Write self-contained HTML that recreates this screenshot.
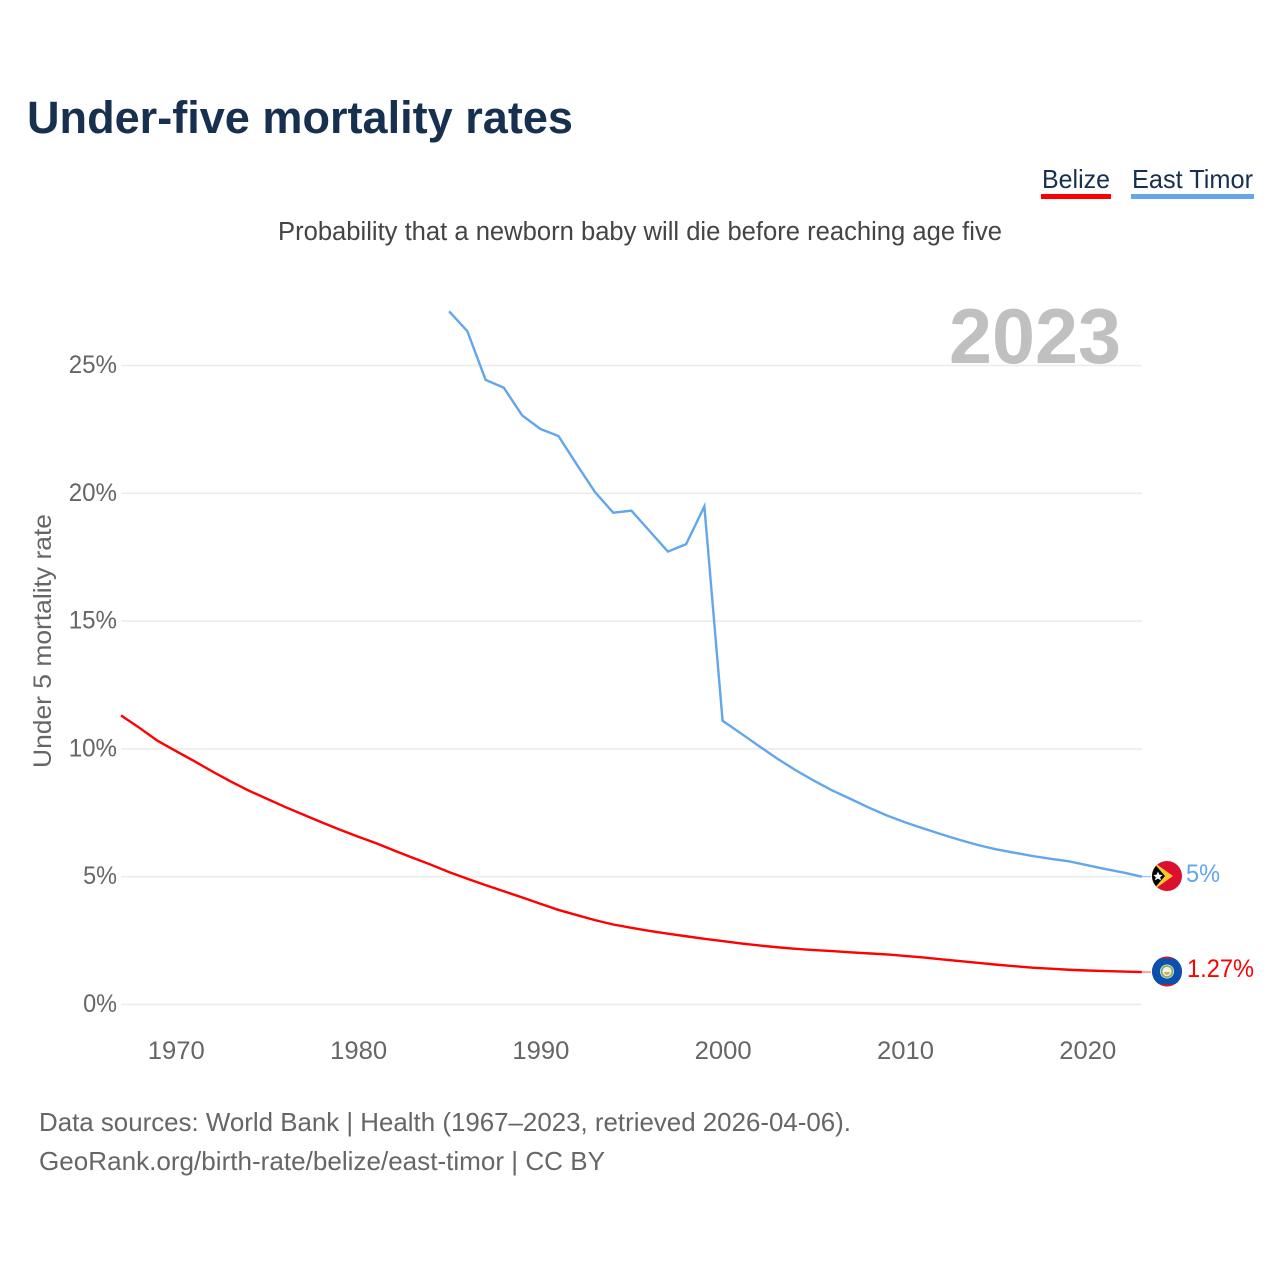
<!DOCTYPE html>
<html lang="en">
<head>
<meta charset="utf-8">
<title>Under-five mortality rates</title>
<style>
html,body{margin:0;padding:0;background:#fff;}
svg{display:block;font-family:"Liberation Sans",sans-serif;}
</style>
</head>
<body>
<svg id="chart" width="1280" height="1280" viewBox="0 0 1280 1280" xmlns="http://www.w3.org/2000/svg">
  <defs>
    <clipPath id="flag-clip-tl"><circle cx="1167" cy="876" r="15"/></clipPath>
    <clipPath id="flag-clip-bz"><circle cx="1167" cy="971.5" r="15"/></clipPath>
  </defs>
  <rect x="0" y="0" width="1280" height="1280" fill="#fff"/>
  <text x="27" y="133" font-size="45" font-weight="700" fill="#18304f" textLength="546" lengthAdjust="spacingAndGlyphs">Under-five mortality rates</text>
  <text x="278" y="240" font-size="25.5" fill="#444" textLength="724" lengthAdjust="spacingAndGlyphs">Probability that a newborn baby will die before reaching age five</text>

  <g>
    <text x="1042" y="188" font-size="26" fill="#18304f" textLength="68" lengthAdjust="spacingAndGlyphs">Belize</text>
    <rect x="1041" y="194" width="70" height="5" fill="#ff0000"/>
    <text x="1132" y="188" font-size="26" fill="#18304f" textLength="121" lengthAdjust="spacingAndGlyphs">East Timor</text>
    <rect x="1131" y="194" width="123" height="5" fill="#62a6ec"/>
  </g>

  <g id="grid"></g>
  <text x="949" y="363" font-size="78" font-weight="700" fill="#c0c0c0" textLength="172" lengthAdjust="spacingAndGlyphs">2023</text>
  <g id="y-ticks"></g>
  <g id="x-ticks"></g>
  <text transform="translate(51,768) rotate(-90)" x="0" y="0" font-size="25" fill="#666" textLength="254" lengthAdjust="spacingAndGlyphs">Under 5 mortality rate</text>
  <g id="series"></g>

  <g clip-path="url(#flag-clip-tl)">
    <rect x="1152" y="861" width="30" height="30" fill="#dc0f2f"/>
    <polygon points="1152,861 1173,876 1152,891" fill="#fdc82f"/>
    <polygon points="1152,861 1152,891 1165,876" fill="#000"/>
    <polygon points="1158,871.5 1159.4,874.6 1162.6,875 1160.2,877.1 1161,880.4 1158,878.6 1155,880.4 1155.8,877.1 1153.4,875 1156.6,874.6" fill="#fff"/>
  </g>
  <g clip-path="url(#flag-clip-bz)">
    <rect x="1152" y="956" width="30" height="31" fill="#b5213a"/>
    <rect x="1152" y="958.5" width="30" height="25.5" fill="#0a50ad"/>
    <circle cx="1167" cy="971.5" r="7" fill="#e8eedd"/>
    <circle cx="1167" cy="971.5" r="5.5" fill="none" stroke="#7fa75c" stroke-width="1.6"/>
    <circle cx="1167" cy="971.5" r="3" fill="#f4f4ec"/>
    <path d="M1164.2 972h5.6a2.8 2.8 0 0 1-5.6 0z" fill="#d9a83a"/>
  </g>
  <text x="1186" y="882" font-size="25" fill="#62a6ec" textLength="34" lengthAdjust="spacingAndGlyphs">5%</text>
  <text x="1187" y="977" font-size="25" fill="#ff0000" textLength="67" lengthAdjust="spacingAndGlyphs">1.27%</text>

  <text x="39" y="1131" font-size="26" fill="#666" textLength="812" lengthAdjust="spacingAndGlyphs">Data sources: World Bank | Health (1967–2023, retrieved 2026-04-06).</text>
  <text x="39" y="1170" font-size="26" fill="#666" textLength="566" lengthAdjust="spacingAndGlyphs">GeoRank.org/birth-rate/belize/east-timor | CC BY</text>
</svg>
<script>
var years = [1967,1968,1969,1970,1971,1972,1973,1974,1975,1976,1977,1978,1979,1980,1981,1982,1983,1984,1985,1986,1987,1988,1989,1990,1991,1992,1993,1994,1995,1996,1997,1998,1999,2000,2001,2002,2003,2004,2005,2006,2007,2008,2009,2010,2011,2012,2013,2014,2015,2016,2017,2018,2019,2020,2021,2022,2023];
var belizeValues = [11.31,10.83,10.32,9.92,9.53,9.12,8.73,8.37,8.05,7.73,7.43,7.13,6.84,6.57,6.31,6.02,5.74,5.47,5.18,4.92,4.67,4.43,4.19,3.94,3.70,3.50,3.30,3.13,3.00,2.88,2.77,2.67,2.57,2.48,2.39,2.31,2.24,2.18,2.13,2.09,2.04,2.00,1.96,1.90,1.84,1.77,1.70,1.63,1.56,1.50,1.44,1.40,1.36,1.33,1.31,1.29,1.27];
var eastTimorValues = [null,null,null,null,null,null,null,null,null,null,null,null,null,null,null,null,null,null,27.12,26.34,24.44,24.13,23.05,22.52,22.24,21.13,20.05,19.24,19.32,18.52,17.72,18.01,19.49,11.10,10.61,10.11,9.62,9.17,8.76,8.38,8.05,7.71,7.40,7.13,6.89,6.66,6.44,6.24,6.07,5.94,5.81,5.70,5.60,5.45,5.30,5.16,5.00];
var xTickValues = [1970,1980,1990,2000,2010,2020];
var yTickValues = [0,5,10,15,20,25];

var NS = 'http://www.w3.org/2000/svg';
function xScale(year){ return 121 + (year - 1967) * 18.23; }
function yScale(pct){ return 1004.5 - pct * 25.56; }
function make(tag, attrs, parent){
  var el = document.createElementNS(NS, tag);
  for (var k in attrs) el.setAttribute(k, attrs[k]);
  parent.appendChild(el);
  return el;
}
function linePath(values){
  var d = '';
  for (var i = 0; i < values.length; i++){
    if (values[i] === null) continue;
    d += (d ? 'L' : 'M') + xScale(years[i]).toFixed(2) + ' ' + yScale(values[i]).toFixed(2);
  }
  return d;
}
var gridG = document.getElementById('grid');
var yG = document.getElementById('y-ticks');
yTickValues.forEach(function(v){
  var line = make('line', {x1: xScale(1967), x2: xScale(2023), y1: yScale(v), y2: yScale(v), stroke: '#ececec', 'stroke-width': 1.6}, gridG);
  
  
  var label = v + '%';
  var t = make('text', {x: 117, y: yScale(v) + 7.5, 'text-anchor': 'end', 'font-size': 25, fill: '#666', textLength: (String(v).length * 14.4 + 19.5), lengthAdjust: 'spacingAndGlyphs'}, yG);
  t.textContent = label;
  
  
});
var xG = document.getElementById('x-ticks');
xTickValues.forEach(function(v){
  var t = make('text', {x: xScale(v) + 0.6, y: 1059, 'text-anchor': 'middle', 'font-size': 25, fill: '#666', textLength: 57, lengthAdjust: 'spacingAndGlyphs'}, xG);
  t.textContent = String(v);
  
  
});
var sG = document.getElementById('series');
var leaderBz = make('line', {x1: xScale(2023), x2: 1151, y1: yScale(belizeValues[belizeValues.length - 1]), y2: yScale(belizeValues[belizeValues.length - 1]), stroke: '#ff0000', 'stroke-width': 1, opacity: 0.7}, sG);


var leaderTl = make('line', {x1: xScale(2023), x2: 1151, y1: yScale(eastTimorValues[eastTimorValues.length - 1]), y2: yScale(eastTimorValues[eastTimorValues.length - 1]), stroke: '#62a6ec', 'stroke-width': 1, opacity: 0.8}, sG);


var lineTl = make('path', {d: linePath(eastTimorValues), fill: 'none', stroke: '#62a6ec', 'stroke-width': 2.4, 'stroke-linejoin': 'miter'}, sG);


var lineBz = make('path', {d: linePath(belizeValues), fill: 'none', stroke: '#ff0000', 'stroke-width': 2.4, 'stroke-linejoin': 'miter'}, sG);


</script>
</body>
</html>
